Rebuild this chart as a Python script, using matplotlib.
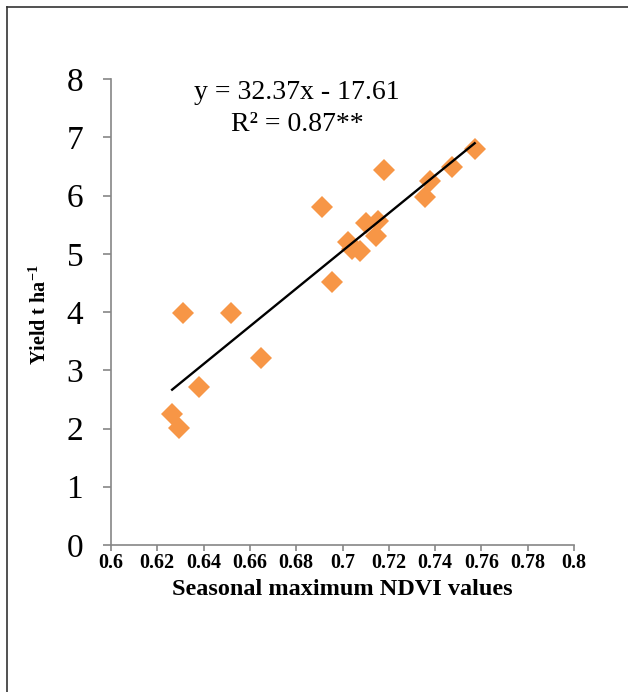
import matplotlib.pyplot as plt
from matplotlib.lines import Line2D
import numpy as np

# seasonal maximum NDVI vs yield (t/ha)
ndvi = [0.7178, 0.6913, 0.7103, 0.7155, 0.7146, 0.7022, 0.7043, 0.7074,
        0.6953, 0.6313, 0.6517, 0.6648, 0.6380, 0.6264, 0.6295, 0.7358,
        0.7380, 0.7475, 0.7571]
yield_t = [6.44, 5.80, 5.53, 5.57, 5.30, 5.21, 5.08, 5.05,
           4.52, 3.99, 3.98, 3.21, 2.72, 2.25, 2.01, 5.98,
           6.25, 6.49, 6.80]

slope, intercept = 32.37, -17.61
r2_text = "R² = 0.87**"
x_ticks = [0.6, 0.62, 0.64, 0.66, 0.68, 0.7, 0.72, 0.74, 0.76, 0.78, 0.8]
x_tick_labels = ["0.6", "0.62", "0.64", "0.66", "0.68", "0.7",
                 "0.72", "0.74", "0.76", "0.78", "0.8"]
y_ticks = [0, 1, 2, 3, 4, 5, 6, 7, 8]

W, H = 628, 692
plt.rcParams['font.family'] = ['Liberation Serif', 'DejaVu Serif']
plt.rcParams['mathtext.fontset'] = 'custom'
plt.rcParams['mathtext.rm'] = 'Liberation Serif'
plt.rcParams['mathtext.bf'] = 'Liberation Serif:bold'

fig = plt.figure(figsize=(W / 100, H / 100), dpi=100)
ax = fig.add_axes([111 / W, 1 - 545 / H, (574 - 111) / W, (545 - 79) / H])

ax.plot(ndvi, yield_t, linestyle="none", marker="D", markersize=11,
        color="#F79646", markeredgewidth=0, zorder=2)

xs = np.array([min(ndvi), max(ndvi)])
ax.plot(xs, slope * xs + intercept, color="black", lw=1.7, zorder=3)

ax.set_xlim(0.6, 0.8)
ax.set_ylim(0, 8)
ax.set_xticks(x_ticks)
ax.set_xticklabels(x_tick_labels, fontsize=14.5, fontweight="bold")
ax.set_yticks(y_ticks)
ax.set_yticklabels([str(v) for v in y_ticks], fontsize=24)

gray = "#868686"
for side in ("top", "right"):
    ax.spines[side].set_visible(False)
for side in ("left", "bottom"):
    ax.spines[side].set_color(gray)
    ax.spines[side].set_linewidth(1.2)
ax.tick_params(axis="y", direction="out", length=6, width=1.2, color=gray, pad=14)
ax.tick_params(axis="x", direction="out", length=4, width=1.2, color=gray, pad=1.5)

fig.text(342 / W, 1 - 595 / H, "Seasonal maximum NDVI values",
         ha="center", va="baseline", fontsize=17.5, fontweight="bold")
fig.text(40 / W, 1 - 315 / H, r"Yield t ha$^{\mathbf{-1}}$",
         ha="center", va="center", rotation=90, fontsize=14.5, fontweight="bold")

fig.text(297 / W, 1 - 99 / H, f"y = {slope:.2f}x - {abs(intercept):.2f}",
         ha="center", va="baseline", fontsize=20)
fig.text(297 / W, 1 - 131 / H, r2_text, ha="center", va="baseline", fontsize=20)

# outer frame (only top and left edges are visible in the crop)
fig.add_artist(Line2D([7 / W, 7 / W], [0, 1 - 6.5 / H], color="#333333",
                      lw=1.2, transform=fig.transFigure))
fig.add_artist(Line2D([7 / W, 1], [1 - 6.5 / H, 1 - 6.5 / H], color="#333333",
                      lw=1.2, transform=fig.transFigure))

fig.savefig("out.png", dpi=100)
